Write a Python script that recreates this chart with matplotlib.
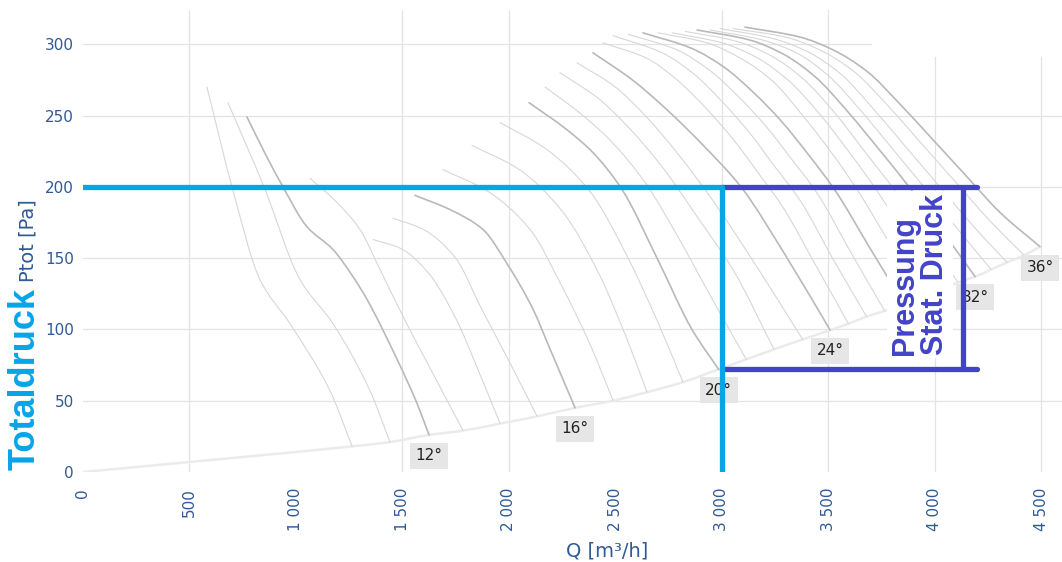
import numpy as np
import matplotlib
matplotlib.use("Agg")
import matplotlib.pyplot as plt
from matplotlib.path import Path
from matplotlib.patches import PathPatch

# ----------------- DATA -----------------
# blade angles of the fan curves
angles = list(range(10, 37))
dark_angles = [12, 16, 20, 24, 28, 32, 36]
# the 28° tag sits under the "Pressung" box in the original
label_angles = [12, 16, 20, 24, 32, 36]

# Q [m3/h] and Ptot [Pa] of every curve
curve_q = [
    [582, 700, 831, 972, 1160, 1264],
    [681, 850, 1019, 1174, 1348, 1442],
    [770, 860, 939, 1052, 1174, 1268, 1334, 1475, 1569, 1625],
    [1066, 1193, 1301, 1395, 1500, 1640, 1785],
    [1362, 1489, 1620, 1750, 1860, 1959],
    [1456, 1600, 1750, 1870, 2000, 2133],
    [1559, 1724, 1879, 1992, 2114, 2194, 2311],
    [1691, 1900, 2100, 2250, 2380, 2490],
    [1827, 2050, 2250, 2420, 2550, 2649],
    [1959, 2170, 2380, 2560, 2700, 2818],
    [2095, 2273, 2395, 2532, 2696, 2860, 2985],
    [2170, 2340, 2480, 2640, 2790, 2960, 3115],
    [2240, 2420, 2560, 2720, 2880, 3060, 3245],
    [2320, 2500, 2640, 2800, 2960, 3160, 3380],
    [2395, 2580, 2743, 2920, 3090, 3307, 3509],
    [2442, 2650, 2790, 2920, 3050, 3170, 3290, 3430, 3595],
    [2490, 2720, 2870, 3000, 3130, 3250, 3370, 3520, 3680],
    [2560, 2790, 2940, 3080, 3210, 3330, 3450, 3610, 3765],
    [2630, 2860, 3010, 3150, 3280, 3410, 3530, 3700, 3855],
    [2701, 2930, 3090, 3240, 3380, 3520, 3640, 3790, 3940],
    [2767, 3000, 3160, 3310, 3460, 3600, 3730, 3880, 4025],
    [2828, 3070, 3230, 3380, 3530, 3670, 3810, 3960, 4110],
    [2884, 3130, 3290, 3440, 3590, 3740, 3890, 4040, 4190],
    [2945, 3190, 3350, 3500, 3650, 3800, 3960, 4110, 4265],
    [2992, 3240, 3400, 3560, 3710, 3870, 4030, 4190, 4340],
    [3053, 3300, 3460, 3620, 3780, 3940, 4100, 4260, 4420],
    [3109, 3368, 3523, 3682, 3837, 3992, 4152, 4307, 4495],
]
curve_p = [
    [270, 200, 135, 104, 57, 18],
    [259, 200, 135, 104, 57, 21],
    [249, 222, 200, 172, 156, 137, 121, 79, 48, 26],
    [206, 189, 170, 142, 110, 70, 29],
    [163, 157, 140, 108, 70, 34],
    [178, 170, 150, 115, 78, 39],
    [194, 184, 170, 146, 114, 86, 45],
    [212, 197, 170, 130, 90, 50],
    [229, 212, 183, 140, 95, 56],
    [245, 227, 197, 150, 105, 63],
    [259, 240, 224, 198, 150, 100, 72],
    [270, 251, 232, 203, 166, 120, 79],
    [280, 262, 242, 214, 180, 140, 86],
    [287, 270, 250, 222, 190, 145, 93],
    [294, 275, 254, 228, 200, 150, 99.5],
    [301, 290, 275, 256, 234, 210, 185, 148, 104],
    [306, 294, 279, 260, 238, 214, 190, 150, 109],
    [307, 296, 282, 263, 242, 219, 195, 153, 113],
    [308, 297, 284, 266, 246, 222, 198, 156, 118],
    [308, 301, 290, 274, 250, 223, 197, 160, 123],
    [308, 301, 291, 275, 251, 224, 197, 162, 128],
    [309, 302, 292, 276, 252, 225, 198, 165, 133],
    [310, 303, 293, 277, 253, 226, 198, 168, 137],
    [310, 303, 294, 278, 254, 227, 198, 170, 142],
    [311, 304, 295, 279, 255, 227, 199, 171, 147],
    [311, 305, 296, 281, 257, 230, 203, 176, 152],
    [312, 305, 296, 281, 258, 233, 207, 182, 158],
]

# start of the lower limit line (the rest runs through the curve ends)
limit_q = [0, 500]
limit_p = [0, 7]

# operating point
duty_q = 3000
duty_ptot = 200
duty_pstat = 72
duty_q_right = 4200
stat_q = 4135

x_ticks = [0, 500, 1000, 1500, 2000, 2500, 3000, 3500, 4000, 4500]
x_tick_labels = ["0", "500", "1 000", "1 500", "2 000", "2 500",
                 "3 000", "3 500", "4 000", "4 500"]
y_ticks = [0, 50, 100, 150, 200, 250, 300]
grid_x = [500, 1500, 2000, 3000, 3500, 4000, 4500]
grid_y = [50, 100, 150, 200, 250, 300]

# ----------------- STYLE -----------------
CYAN = "#06a5e8"
INDIGO = "#4343c9"
AXIS_TXT = "#2f5a96"
XMAX, YMAX = 4922, 324


def smooth_path(q, p):
    # monotone cubic (Fritsch-Carlson) written as bezier segments
    x = np.asarray(q, float)
    y = np.asarray(p, float)
    h = np.diff(x)
    dl = np.diff(y) / h
    n = len(x)
    d = np.zeros(n)
    for k in range(1, n - 1):
        if dl[k - 1] * dl[k] > 0:
            w1 = 2 * h[k] + h[k - 1]
            w2 = h[k] + 2 * h[k - 1]
            d[k] = (w1 + w2) / (w1 / dl[k - 1] + w2 / dl[k])
    d[0], d[-1] = dl[0], dl[-1]
    verts = [(x[0], y[0])]
    codes = [Path.MOVETO]
    for i in range(n - 1):
        t = h[i] / 3
        verts += [(x[i] + t, y[i] + d[i] * t),
                  (x[i + 1] - t, y[i + 1] - d[i + 1] * t),
                  (x[i + 1], y[i + 1])]
        codes += [Path.CURVE4] * 3
    return Path(verts, codes)


fig = plt.figure(figsize=(10.62, 5.62), dpi=100)
ax = fig.add_axes([83 / 1062, 90 / 562, 1048 / 1062, 462 / 562])
ax.set_xlim(0, XMAX)
ax.set_ylim(0, YMAX)
for s in ax.spines.values():
    s.set_visible(False)

# grid
for y in grid_y:
    ax.axhline(y, xmin=0, xmax=(3701 / XMAX if y == 300 else 1),
               color="#e3e3e3", lw=0.9, zorder=0.5)
for x in grid_x:
    ax.axvline(x, ymin=0, ymax=(291 / YMAX if x >= 4000 else 1),
               color="#e3e3e3", lw=0.9, zorder=0.5)

# lower limit line through curve ends
ends_q = limit_q + [q[-1] for q in curve_q]
ends_p = limit_p + [p[-1] for p in curve_p]
ax.add_patch(PathPatch(smooth_path(ends_q, ends_p), fill=False,
                       edgecolor="#ebebeb", lw=1.8, zorder=1))

# fan curves
for a, q, p in zip(angles, curve_q, curve_p):
    if a in dark_angles:
        col, lw = "#b9b9b9", 1.2
    else:
        col, lw = "#d7d7d7", 0.8
    ax.add_patch(PathPatch(smooth_path(q, p), fill=False, edgecolor=col,
                           lw=lw, zorder=2, capstyle="round"))
    if a in label_angles:
        ax.annotate(f"{a}°", xy=(q[-1], p[-1]), xytext=(0, -15),
                    textcoords="offset points", ha="center", va="center",
                    fontsize=11, color="#222222", zorder=3,
                    bbox=dict(facecolor="#e6e6e6", edgecolor="none", pad=4))

# operating point lines
ax.plot([0, duty_q], [duty_ptot, duty_ptot], color=CYAN, lw=3.8,
        solid_capstyle="round", zorder=6)
ax.plot([duty_q, duty_q_right], [duty_ptot, duty_ptot], color=INDIGO, lw=3.8,
        solid_capstyle="round", zorder=6)
ax.plot([duty_q, duty_q_right], [duty_pstat, duty_pstat], color=INDIGO, lw=3.8,
        solid_capstyle="round", zorder=6)
ax.plot([stat_q, stat_q], [duty_ptot, duty_pstat], color=INDIGO, lw=3.8,
        solid_capstyle="butt", zorder=6)
ax.plot([duty_q, duty_q], [duty_ptot, 0], color=CYAN, lw=3.8,
        solid_capstyle="round", zorder=7)

ax.text(3931, 82, "Pressung\nStat. Druck", rotation=90, ha="center",
        va="bottom", multialignment="left", fontsize=22, fontweight="bold",
        family="Liberation Sans", color=INDIGO, linespacing=1.0, zorder=5,
        bbox=dict(facecolor="white", edgecolor="none", pad=2))

# ticks
ax.set_xticks(x_ticks)
ax.set_xticklabels(x_tick_labels, rotation=90)
ax.set_yticks(y_ticks)
ax.tick_params(axis="x", length=0, pad=11.5, labelsize=11, labelcolor=AXIS_TXT)
ax.tick_params(axis="y", length=0, pad=6.5, labelsize=11, labelcolor=AXIS_TXT)

fig.text(607 / 1062, 11 / 562, "Q [m³/h]", ha="center", va="center",
         fontsize=14, color=AXIS_TXT)
fig.text(28 / 1062, 321 / 562, "Ptot [Pa]", ha="center", va="center",
         rotation=90, fontsize=14, color=AXIS_TXT)
fig.text(25 / 1062, 92 / 562, "Totaldruck", ha="center", va="bottom",
         rotation=90, fontsize=26, fontweight="bold", family="Liberation Sans",
         color=CYAN)

fig.savefig("out.png", dpi=100)
